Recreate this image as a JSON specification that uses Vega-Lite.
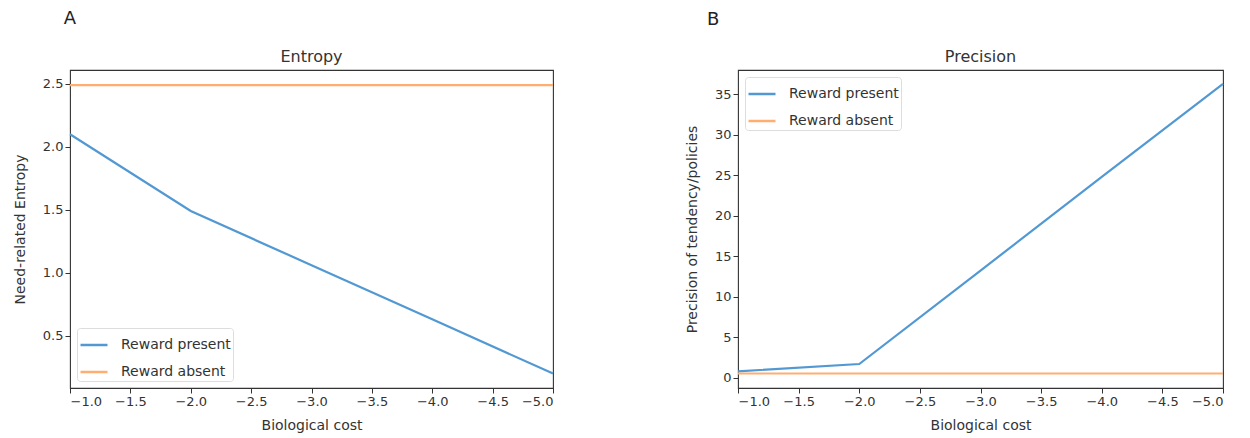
{
  "$schema": "https://vega.github.io/schema/vega-lite/v6.json",
  "padding": {"left": 12, "top": 10, "right": 0, "bottom": 0},
  "background": "white",
  "config": {
    "font": "DejaVu Sans",
    "view": {"stroke": "#333", "strokeWidth": 1.1},
    "axis": {
      "grid": false,
      "domain": false,
      "tickColor": "#333",
      "tickSize": 5,
      "labelColor": "#333",
      "labelFontSize": 13,
      "labelPadding": 2,
      "titleColor": "#333",
      "titleFontSize": 14,
      "titleFontWeight": "normal"
    },
    "axisX": {"titlePadding": 10},
    "axisY": {"titlePadding": 15},
    "title": {"fontSize": 16, "fontWeight": "normal", "color": "#333"},
    "legend": {
      "labelFontSize": 14,
      "labelColor": "#333",
      "labelOffset": 12,
      "symbolType": "stroke",
      "symbolStrokeWidth": 2.5,
      "symbolSize": 729,
      "strokeColor": "#ddd",
      "fillColor": "white",
      "cornerRadius": 3,
      "padding": 2,
      "rowPadding": 5,
      "offset": 7
    }
  },
  "datasets": {
    "entropy": [
      {"cost": -1, "value": 2.10, "series": "Reward present"},
      {"cost": -2, "value": 1.49, "series": "Reward present"},
      {"cost": -3, "value": 1.06, "series": "Reward present"},
      {"cost": -4, "value": 0.63, "series": "Reward present"},
      {"cost": -5, "value": 0.20, "series": "Reward present"},
      {"cost": -1, "value": 2.49, "series": "Reward absent"},
      {"cost": -2, "value": 2.49, "series": "Reward absent"},
      {"cost": -3, "value": 2.49, "series": "Reward absent"},
      {"cost": -4, "value": 2.49, "series": "Reward absent"},
      {"cost": -5, "value": 2.49, "series": "Reward absent"}
    ],
    "precision": [
      {"cost": -1, "value": 0.82, "series": "Reward present"},
      {"cost": -2, "value": 1.72, "series": "Reward present"},
      {"cost": -3, "value": 13.25, "series": "Reward present"},
      {"cost": -4, "value": 24.8, "series": "Reward present"},
      {"cost": -5, "value": 36.3, "series": "Reward present"},
      {"cost": -1, "value": 0.55, "series": "Reward absent"},
      {"cost": -2, "value": 0.55, "series": "Reward absent"},
      {"cost": -3, "value": 0.55, "series": "Reward absent"},
      {"cost": -4, "value": 0.55, "series": "Reward absent"},
      {"cost": -5, "value": 0.55, "series": "Reward absent"}
    ]
  },
  "resolve": {"scale": {"color": "independent"}, "legend": {"color": "independent"}},
  "spacing": 126,
  "hconcat": [
    {
      "title": {"text": "A", "anchor": "start", "fontSize": 18, "color": "#222", "offset": 20, "dx": 51},
      "resolve": {"scale": {"color": "independent"}, "legend": {"color": "independent"}},
      "vconcat": [
        {
          "width": 483,
          "height": 318,
          "title": {"text": "Entropy", "offset": 5},
          "data": {"name": "entropy"},
          "mark": {"type": "line", "strokeWidth": 2.2},
          "encoding": {
            "x": {
              "field": "cost", "type": "quantitative",
              "scale": {"domain": [-5, -1], "reverse": true, "nice": false, "zero": false},
              "axis": {"title": "Biological cost", "values": [-1, -1.5, -2, -2.5, -3, -3.5, -4, -4.5, -5], "format": ".1f"}
            },
            "y": {
              "field": "value", "type": "quantitative",
              "scale": {"domain": [0.085, 2.61], "nice": false, "zero": false},
              "axis": {"title": "Need-related Entropy", "values": [0.5, 1, 1.5, 2, 2.5], "format": ".1f"}
            },
            "color": {
              "field": "series", "type": "nominal",
              "scale": {"domain": ["Reward present", "Reward absent"], "range": ["#5299d3", "#ffae70"]},
              "legend": {"title": null, "orient": "bottom-left"}
            }
          }
        }
      ]
    },
    {
      "title": {"text": "B", "anchor": "start", "fontSize": 18, "color": "#222", "offset": 19, "dx": 22},
      "resolve": {"scale": {"color": "independent"}, "legend": {"color": "independent"}},
      "vconcat": [
        {
          "width": 485,
          "height": 318,
          "title": {"text": "Precision", "offset": 5},
          "data": {"name": "precision"},
          "mark": {"type": "line", "strokeWidth": 2.2},
          "encoding": {
            "x": {
              "field": "cost", "type": "quantitative",
              "scale": {"domain": [-5, -1], "reverse": true, "nice": false, "zero": false},
              "axis": {"title": "Biological cost", "values": [-1, -1.5, -2, -2.5, -3, -3.5, -4, -4.5, -5], "format": ".1f"}
            },
            "y": {
              "field": "value", "type": "quantitative",
              "scale": {"domain": [-1.24, 38.0], "nice": false, "zero": false},
              "axis": {"title": "Precision of tendency/policies", "values": [0, 5, 10, 15, 20, 25, 30, 35], "format": "d"}
            },
            "color": {
              "field": "series", "type": "nominal",
              "scale": {"domain": ["Reward present", "Reward absent"], "range": ["#5299d3", "#ffae70"]},
              "legend": {"title": null, "orient": "top-left"}
            }
          }
        }
      ]
    }
  ]
}
